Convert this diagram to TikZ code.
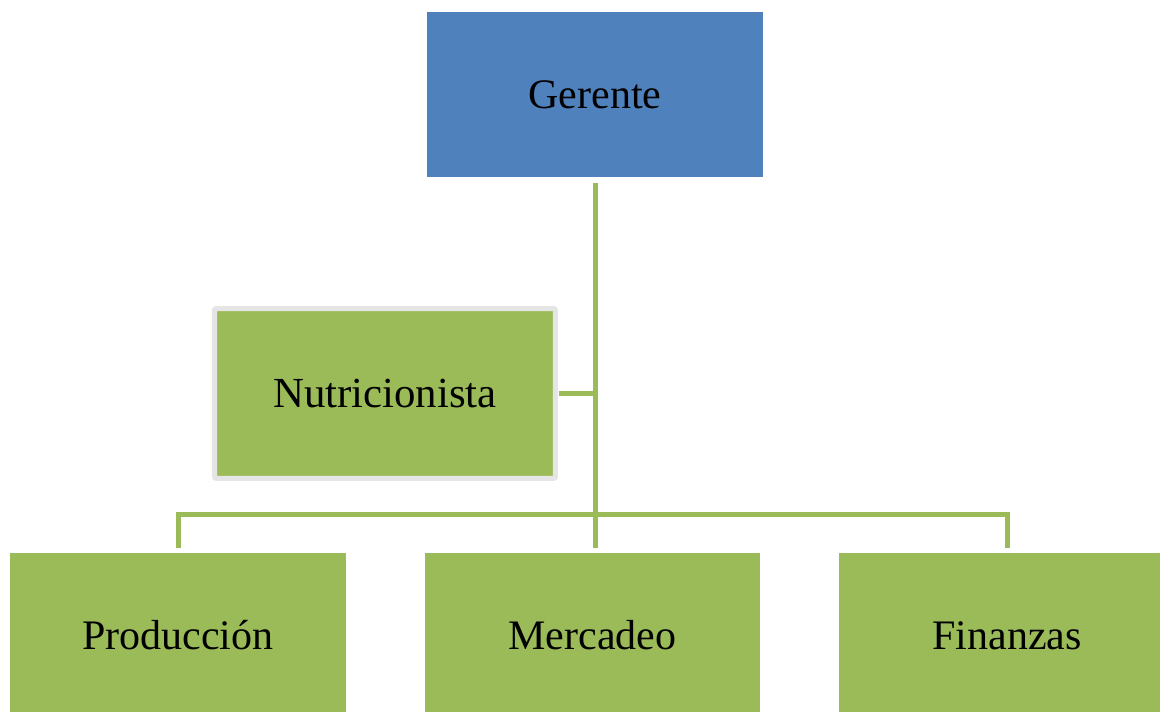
\documentclass[tikz,border=0pt]{standalone}
\usepackage{fontspec}
\setmainfont{Liberation Serif}
\usetikzlibrary{positioning}
\definecolor{jefeblue}{HTML}{4F81BD}
\definecolor{areagreen}{HTML}{9BBB59}
\tikzset{
	jefe/.style={rectangle,fill=jefeblue,outer sep=0,minimum width=6.72cm,minimum height=3.3cm,font=\fontsize{23.9}{28}\selectfont},
	area/.style={rectangle,fill=areagreen,outer sep=0,minimum width=6.72cm,minimum height=3.3cm,font=\fontsize{23.9}{28}\selectfont},
	staff/.style={area,draw=black!10,line width=0.1cm,rounded corners=0.04cm,minimum width=6.82cm,minimum height=3.4cm,font=\fontsize{24.4}{29}\selectfont},
	link/.style={draw=areagreen,line width=0.1cm}
}

\begin{document}
\begin{tikzpicture}[x=0.02cm,y=-0.02cm]
	\clip (0,0) rectangle (1160,712);
	\useasboundingbox (0,0) rectangle (1160,712);
	
	%%%% jefe y staff
	\node[jefe] (gerente) at (595,94.5) {Gerente};
	\node[staff] (nutri) at (385,393.5) {Nutricionista};
	
	%%%% areas
	\node[area] (prod) at (178,635.5) {Producción};
	\node[area] (merc) at (592.5,635.5) {Mercadeo};
	\node[area] (fin) at (1007,635.5) {Finanzas};
	\coordinate (barra) at (595,515);
	
	\draw[link,shorten <=0.12cm,shorten >=0.1cm] (gerente.south) -- (gerente.south |- merc.north);
	\draw[link,shorten <=0.07cm] (nutri.east) -- (nutri.east -| gerente.south);
	\draw[link,shorten <=0.1cm,shorten >=0.1cm] (prod.north) |- (barra) -| (fin.north);
\end{tikzpicture}
\end{document}
